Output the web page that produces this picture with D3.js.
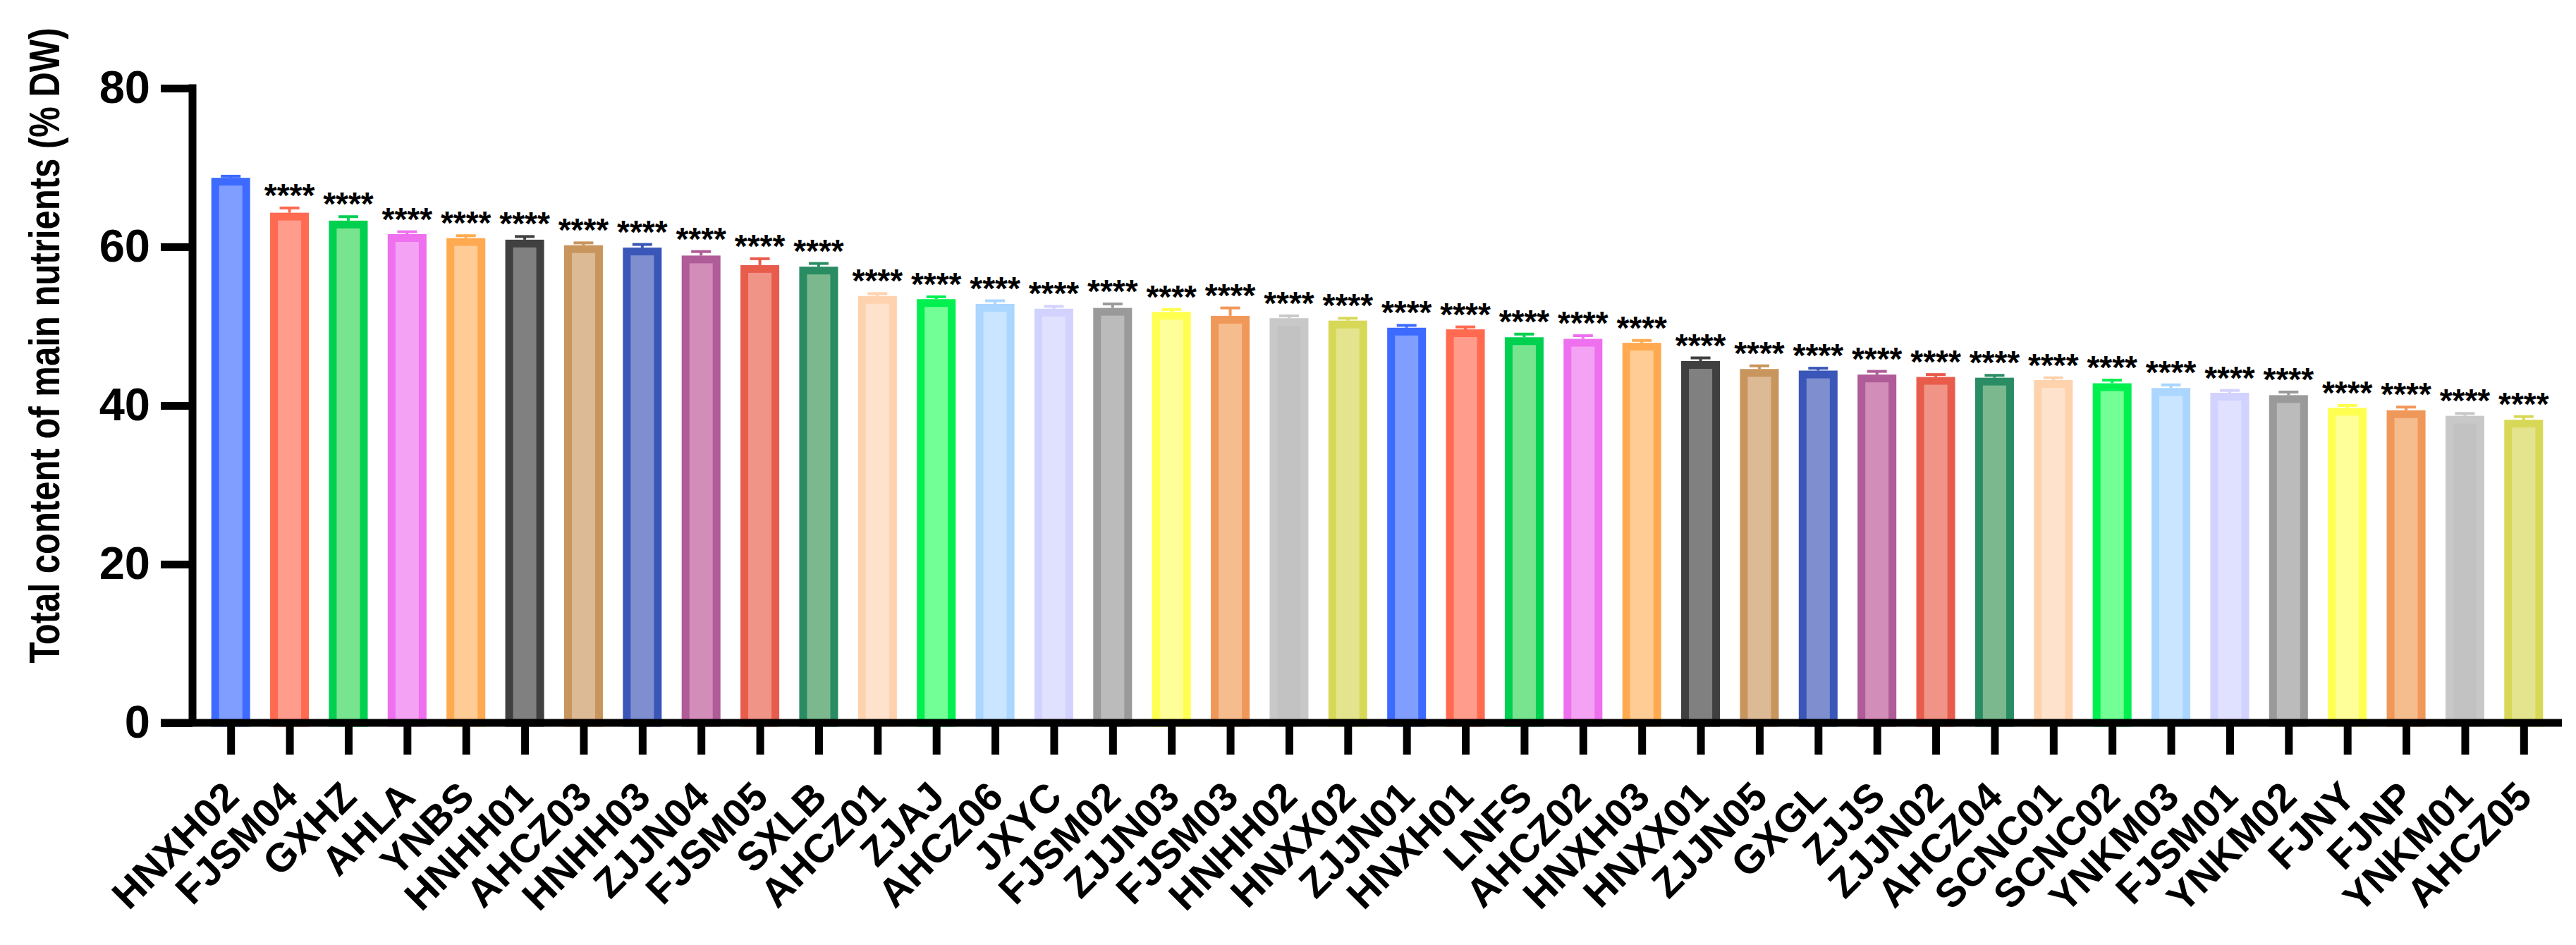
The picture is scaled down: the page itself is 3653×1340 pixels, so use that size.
<!DOCTYPE html>
<html>
<head>
<meta charset="utf-8">
<script src="https://cdn.jsdelivr.net/npm/d3@7"></script>
<style>
  html, body { margin: 0; padding: 0; background: #fff; }
  svg { display: block; }
  text { font-family: "Liberation Sans", Arial, sans-serif; font-weight: bold; fill: #000; }
</style>
</head>
<body>
<script>
const categories = ["HNXH02","FJSM04","GXHZ","AHLA","YNBS","HNHH01","AHCZ03","HNHH03","ZJJN04","FJSM05",
  "SXLB","AHCZ01","ZJAJ","AHCZ06","JXYC","FJSM02","ZJJN03","FJSM03","HNHH02","HNXX02",
  "ZJJN01","HNXH01","LNFS","AHCZ02","HNXH03","HNXX01","ZJJN05","GXGL","ZJJS","ZJJN02",
  "AHCZ04","SCNC01","SCNC02","YNKM03","FJSM01","YNKM02","FJNY","FJNP","YNKM01","AHCZ05"];
const values = [68.7,64.3,63.3,61.6,61.1,60.9,60.2,59.9,58.9,57.7,
  57.5,53.8,53.4,52.8,52.2,52.3,51.8,51.3,51.0,50.7,
  49.8,49.6,48.6,48.4,47.9,45.6,44.6,44.4,43.9,43.6,
  43.5,43.2,42.8,42.2,41.6,41.3,39.7,39.4,38.7,38.2];
const errors = [0.2,0.6,0.5,0.3,0.3,0.4,0.3,0.4,0.5,0.8,
  0.4,0.3,0.3,0.4,0.3,0.5,0.3,1.0,0.3,0.3,
  0.3,0.3,0.4,0.4,0.3,0.4,0.4,0.3,0.4,0.3,
  0.3,0.3,0.4,0.4,0.3,0.4,0.3,0.4,0.3,0.4];
const significance = ["","****","****","****","****","****","****","****","****","****",
  "****","****","****","****","****","****","****","****","****","****",
  "****","****","****","****","****","****","****","****","****","****",
  "****","****","****","****","****","****","****","****","****","****"];
const yTicks = [0,20,40,60,80];
const yTitle = "Total content of main nutrients (% DW)";

// palette (stroke, fill), repeated across the groups
const strokePalette = ["#3D6BFF","#FF6A50","#00D050","#EE70EE","#FFAA50","#404040","#C8955C","#3A56B8","#B05C98","#E85C4C",
  "#2A8C62","#FFD2AE","#00F050","#AAD6FF","#D2D2FF","#9A9A9A","#FFFF50","#F0985A","#C8C8C8","#D8D858"];
const fillPalette = ["#809EFF","#FF9C8C","#78E490","#F4A2F4","#FFCC96","#808080","#DDBA96","#7F8ECE","#D28DB8","#F09488",
  "#7CB88E","#FFE2CC","#72FF96","#C9E5FF","#E0E0FF","#BBBBBB","#FFFF99","#F5BC8E","#C2C2C2","#E4E48E"];

const W = 3653, H = 1340;
const x0 = 273, x1 = 3633, yTop = 125, yBase = 1025;

const svg = d3.select("body").append("svg").attr("width", W).attr("height", H);
svg.append("rect").attr("width", W).attr("height", H).attr("fill", "#fff");

const x = d3.scalePoint().domain(categories).range([x0, x1]).padding(0.65);
const y = d3.scaleLinear().domain([0, 80]).range([yBase, yTop]);

const step = x.step();
const barW = step * 0.66;
const sw = 11;

const data = categories.map((c, i) => ({c, v: values[i], e: errors[i], s: significance[i], i}));

// bars
svg.append("g").selectAll("rect").data(data).join("rect")
  .attr("x", d => x(d.c) - barW / 2 + sw / 2)
  .attr("y", d => y(d.v) + sw / 2)
  .attr("width", barW - sw)
  .attr("height", d => yBase - y(d.v) - sw / 2)
  .attr("fill", d => fillPalette[d.i % fillPalette.length])
  .attr("stroke", d => strokePalette[d.i % strokePalette.length])
  .attr("stroke-width", sw);

// error bars
const eg = svg.append("g");
eg.selectAll("line.v").data(data).join("line").attr("class", "v")
  .attr("x1", d => x(d.c)).attr("x2", d => x(d.c))
  .attr("y1", d => y(d.v)).attr("y2", d => y(d.v + d.e))
  .attr("stroke", d => strokePalette[d.i % strokePalette.length]).attr("stroke-width", 4);
eg.selectAll("line.c").data(data).join("line").attr("class", "c")
  .attr("x1", d => x(d.c) - 14).attr("x2", d => x(d.c) + 14)
  .attr("y1", d => y(d.v + d.e)).attr("y2", d => y(d.v + d.e))
  .attr("stroke", d => strokePalette[d.i % strokePalette.length]).attr("stroke-width", 4);

// significance stars
svg.append("g").selectAll("text").data(data).join("text")
  .attr("x", d => x(d.c))
  .attr("y", d => y(d.v + d.e) - 2)
  .attr("text-anchor", "middle")
  .attr("font-size", 46)
  .text(d => d.s);

// y axis
const yAxis = d3.axisLeft(y).tickValues(yTicks).tickSize(45).tickSizeOuter(0).tickPadding(15);
const gy = svg.append("g").attr("transform", `translate(${x0},0)`).call(yAxis);
gy.select(".domain").attr("stroke", "#000").attr("stroke-width", sw).attr("d", `M0,${yTop - sw/2}V${yBase}`);
gy.selectAll(".tick line").attr("stroke", "#000").attr("stroke-width", sw);
gy.selectAll(".tick text").attr("font-size", 65).attr("font-family", "Liberation Sans, Arial, sans-serif")
  .attr("font-weight", "bold").attr("fill", "#000");

// x axis
const xAxis = d3.axisBottom(x).tickSize(45).tickSizeOuter(0).tickPadding(0);
const gx = svg.append("g").attr("transform", `translate(0,${yBase})`).call(xAxis);
gx.select(".domain").remove();
gx.append("line").attr("x1", x0 - 45).attr("x2", x1).attr("y1", 0).attr("y2", 0)
  .attr("stroke", "#000").attr("stroke-width", sw);
gx.selectAll(".tick line").attr("stroke", "#000").attr("stroke-width", sw);
gx.selectAll(".tick text")
  .attr("font-size", 57).attr("font-family", "Liberation Sans, Arial, sans-serif")
  .attr("font-weight", "bold").attr("fill", "#000")
  .attr("text-anchor", "end")
  .attr("y", 0).attr("dy", "0.35em")
  .attr("transform", "translate(0,94) rotate(-45)");

// y title (slightly condensed along its length, as in the reference)
const titleSize = 62;
const titleScale = 905 / (18.445 * titleSize);
svg.append("text")
  .attr("transform", `translate(84,490) rotate(-90) scale(${titleScale},1)`)
  .attr("text-anchor", "middle")
  .attr("font-size", titleSize)
  .text(yTitle);
</script>
</body>
</html>
